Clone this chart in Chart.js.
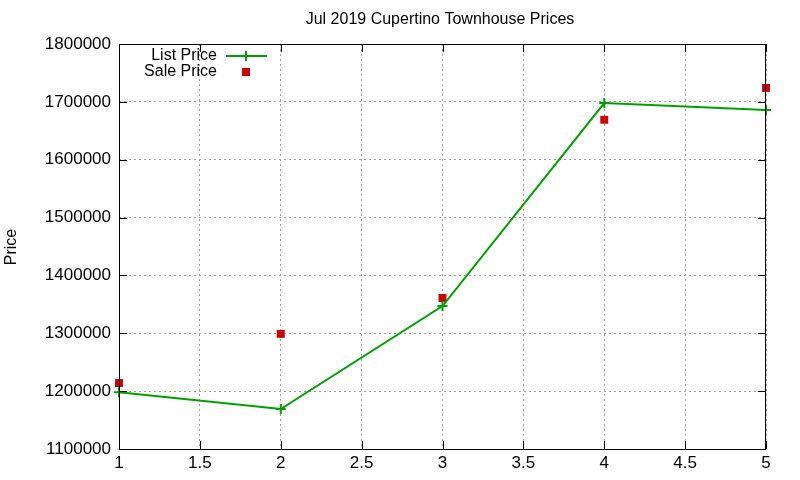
<!DOCTYPE html>
<html>
<head>
<meta charset="utf-8">
<script src="https://cdn.jsdelivr.net/npm/chart.js@4"></script>
<style>
  body { margin: 0; background: #fff; }
  #wrap { width: 800px; height: 480px; }
</style>
</head>
<body>
<div id="wrap"><canvas id="myChart" width="800" height="480"></canvas></div>
<script>
// data
var titleText = "Jul 2019 Cupertino Townhouse Prices";
var yTitle = "Price";
var months = [1, 2, 3, 4, 5];
var listPrice = [1198000, 1169000, 1347000, 1698000, 1686000];
var salePrice = [1214000, 1299000, 1361000, 1669000, 1724000];
var xTicks = [1, 1.5, 2, 2.5, 3, 3.5, 4, 4.5, 5];
var yTicks = [1100000, 1200000, 1300000, 1400000, 1500000, 1600000, 1700000, 1800000];

var green = "#00a000";
var red = "#cc0000";
var font = "Liberation Sans, Arial, sans-serif";

function toPoints(xs, ys) {
  return xs.map((x, i) => ({ x: x, y: ys[i] }));
}

// gnuplot-ish frame, inward ticks, title, y label and key
var gnuplotLook = {
  id: 'gnuplotLook',
  afterDraw(chart) {
    const ctx = chart.ctx;
    const a = chart.chartArea;
    const xs = chart.scales.x, ys = chart.scales.y;
    ctx.save();
    ctx.strokeStyle = "#000";
    ctx.lineWidth = 1;
    ctx.strokeRect(a.left + 0.5, a.top + 0.5, a.right - a.left - 1, a.bottom - a.top);
    ctx.beginPath();
    xTicks.forEach(v => {
      const px = Math.round(xs.getPixelForValue(v)) + 0.5;
      ctx.moveTo(px, a.bottom); ctx.lineTo(px, a.bottom - 8);
      ctx.moveTo(px, a.top); ctx.lineTo(px, a.top + 8);
    });
    yTicks.forEach(v => {
      const py = Math.round(ys.getPixelForValue(v)) + 0.5;
      ctx.moveTo(a.left, py); ctx.lineTo(a.left + 8, py);
      ctx.moveTo(a.right, py); ctx.lineTo(a.right - 8, py);
    });
    ctx.stroke();

    ctx.fillStyle = "#000";
    ctx.font = "16px " + font;
    ctx.textAlign = "center";
    ctx.textBaseline = "middle";
    ctx.fillText(titleText, 440, 20);

    ctx.translate(12, 247);
    ctx.rotate(-Math.PI / 2);
    ctx.fillText(yTitle, 0, 0);
    ctx.setTransform(1, 0, 0, 1, 0, 0);

    // key
    const ds = chart.data.datasets;
    ctx.textAlign = "right";
    ctx.fillText(ds[0].label, 217, 56);
    ctx.fillText(ds[1].label, 217, 72);
    ctx.strokeStyle = green;
    ctx.lineWidth = 2;
    ctx.beginPath();
    ctx.moveTo(226, 56); ctx.lineTo(267, 56);
    ctx.moveTo(246, 51); ctx.lineTo(246, 61);
    ctx.stroke();
    ctx.fillStyle = red;
    ctx.fillRect(242, 68, 8, 8);
    ctx.restore();
  }
};

var gridOpts = { color: "#a0a0a0", dash: [2, 3], drawTicks: false, lineWidth: 1 };
var borderOpts = { display: false, dash: [2, 3] };

new Chart(document.getElementById('myChart'), {
  type: 'scatter',
  data: {
    datasets: [
      {
        label: "List Price",
        data: toPoints(months, listPrice),
        showLine: true,
        borderColor: green,
        backgroundColor: green,
        borderWidth: 2,
        pointStyle: 'cross',
        pointRadius: 5,
        pointBorderWidth: 2,
        tension: 0,
        clip: false
      },
      {
        label: "Sale Price",
        data: toPoints(months, salePrice),
        showLine: false,
        borderColor: red,
        backgroundColor: red,
        pointStyle: 'rect',
        pointRadius: 5.6,
        pointBorderWidth: 0,
        clip: false
      }
    ]
  },
  options: {
    responsive: false,
    animation: false,
    devicePixelRatio: 1,
    layout: { padding: { top: 44, right: 34, left: 0, bottom: 0 } },
    plugins: {
      legend: { display: false },
      tooltip: { enabled: false }
    },
    scales: {
      x: {
        type: 'linear',
        min: 1, max: 5,
        afterBuildTicks: s => { s.ticks = xTicks.map(v => ({ value: v })); },
        afterFit: s => { s.height = 31; },
        grid: gridOpts,
        border: borderOpts,
        ticks: { color: "#000", font: { family: font, size: 17 }, padding: 4, maxRotation: 0,
                 callback: v => String(v) }
      },
      y: {
        min: 1100000, max: 1800000,
        afterBuildTicks: s => { s.ticks = yTicks.map(v => ({ value: v })); },
        afterFit: s => { s.width = 119; },
        grid: gridOpts,
        border: borderOpts,
        ticks: { color: "#000", font: { family: font, size: 17 }, padding: 8,
                 callback: v => String(v) }
      }
    }
  },
  plugins: [gnuplotLook]
});
</script>
</body>
</html>
